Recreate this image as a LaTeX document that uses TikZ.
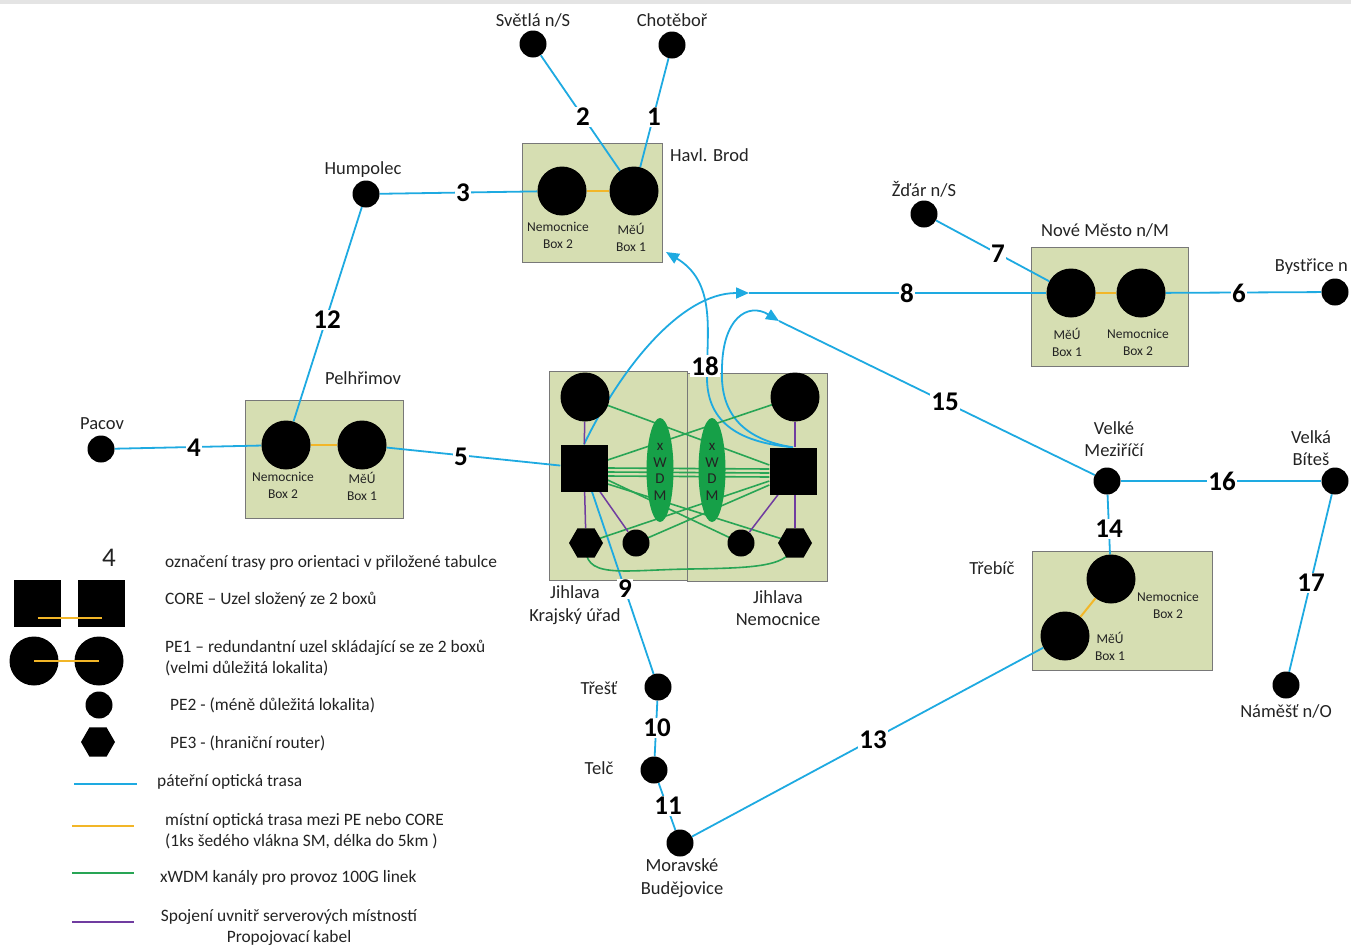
\documentclass[tikz,border=0pt]{standalone}
\usepackage{fontspec}
\setmainfont{Carlito}
\usetikzlibrary{shapes.geometric,arrows.meta}
\pgfdeclarelayer{boxes}
\pgfdeclarelayer{lines}
\pgfsetlayers{boxes,lines,main}
\definecolor{cblue}{RGB}{30,170,225}
\definecolor{cyel}{RGB}{242,182,40}
\definecolor{cgreen}{RGB}{40,165,85}
\definecolor{egreen}{RGB}{22,160,72}
\definecolor{cpurple}{RGB}{112,60,160}
\definecolor{boxfill}{RGB}{214,222,178}
\definecolor{boxline}{RGB}{120,120,120}
\definecolor{txt}{RGB}{35,35,35}
\definecolor{topgray}{RGB}{228,228,228}
\begin{document}
\begin{tikzpicture}[x=1pt,y=-1pt,
  pebig/.style={circle,fill=black,minimum size=49pt,inner sep=0pt},
  pesmall/.style={circle,fill=black,minimum size=27pt,inner sep=0pt},
  coresq/.style={rectangle,fill=black,minimum size=47pt,inner sep=0pt},
  hexnode/.style={regular polygon,regular polygon sides=6,fill=black,minimum size=34pt,inner sep=0pt},
  wdmell/.style={ellipse,fill=egreen,minimum width=27pt,minimum height=104pt,inner sep=0pt},
  site/.style={fill=boxfill,draw=boxline,line width=0.8pt},
  bb/.style={draw=cblue,line width=1.8pt},
  bbarrow/.style={bb,-{Triangle[length=13pt,width=11pt]}},
  locl/.style={draw=cyel,line width=2pt},
  wdm/.style={draw=cgreen,line width=1.6pt},
  intra/.style={draw=cpurple,line width=1.5pt},
  lbl/.style={font=\fontsize{18.5}{22.5}\selectfont,text=txt,inner sep=1pt,align=center},
  boxlbl/.style={font=\fontsize{13.5}{17}\selectfont,text=txt,inner sep=1pt,align=center},
  legtxt/.style={font=\fontsize{17.4}{21}\selectfont,text=txt,inner sep=0pt,align=left,anchor=west},
  num/.style={font=\fontsize{27}{29}\selectfont\bfseries,text=black,fill=white,inner sep=1.5pt},
  wdmtxt/.style={font=\fontsize{15}{16.5}\selectfont,text=txt,align=center,inner sep=0pt}
]
\useasboundingbox (0,0) rectangle (1351,945);
\fill[topgray] (0,0) rectangle (1351,4);

% ---------- site boxes ----------
\begin{pgfonlayer}{boxes}
\draw[site] (522,143) rectangle (662,262);
\draw[site] (245,400) rectangle (403,518);
\draw[site] (1031,247) rectangle (1188,366);
\draw[site] (1032,551) rectangle (1212,670);
\draw[site] (549,371) rectangle (687,580);
\draw[site] (687,373) rectangle (827,581);
\end{pgfonlayer}

% ---------- nodes ----------
\node[pesmall] (svetla) at (533,44) {};
\node[pesmall] (chot) at (672,45) {};
\node[pebig] (hbN) at (562,191) {};
\node[pebig] (hbM) at (634,191) {};
\node[pesmall] (humpolec) at (366,194) {};
\node[pebig] (pelN) at (286,445) {};
\node[pebig] (pelM) at (362,445) {};
\node[pesmall] (pacov) at (101,449) {};
\node[pebig] (Lc) at (585,397) {};
\node[pebig] (Rc) at (795,397) {};
\node[coresq] (LSq) at (584,468) {};
\node[coresq] (RSq) at (793,471) {};
\node[hexnode] (Lhex) at (586,543) {};
\node[pesmall] (Lsm) at (636,543) {};
\node[pesmall] (Rsm) at (741,543) {};
\node[hexnode] (Rhex) at (795,543) {};
\node[wdmell] (ellL) at (660,470) {};
\node[wdmell] (ellR) at (712,470) {};
\node[wdmtxt] (wtL) at (660,472) {x\\W\\D\\M};
\node[wdmtxt] (wtR) at (712,472) {x\\W\\D\\M};
\node[pesmall] (trest) at (658,687) {};
\node[pesmall] (telc) at (654,770) {};
\node[pesmall] (morbud) at (680,843) {};
\node[pebig] (trbN) at (1111,579) {};
\node[pebig] (trbM) at (1065,636) {};
\node[pesmall] (velmez) at (1107,481) {};
\node[pesmall] (velbit) at (1335,481) {};
\node[pesmall] (namest) at (1286,685) {};
\node[pesmall] (zdar) at (924,214) {};
\node[pebig] (nmM) at (1071,293) {};
\node[pebig] (nmN) at (1141,293) {};
\node[pesmall] (bystrice) at (1335,292) {};

\coordinate (a8) at (749,293);
\coordinate (a15) at (779,321);
\coordinate (a18) at (666,252);

% ---------- connectors ----------
\begin{pgfonlayer}{lines}
% local links
\draw[locl] (hbN) -- (hbM);
\draw[locl] (pelN) -- (pelM);
\draw[locl] (nmM) -- (nmN);
\draw[locl] (trbN) -- (trbM);
% backbone
\draw[bb] (svetla) -- (hbM);
\draw[bb] (chot) -- (hbM);
\draw[bb] (humpolec) -- (hbN);
\draw[bb] (humpolec) -- (pelN);
\draw[bb] (pacov) -- (pelN);
\draw[bb] (pelM) -- (LSq);
\draw[bb] ([xshift=8pt]LSq.south) -- (trest);
\draw[bb] (trest) -- (telc);
\draw[bb] (telc) -- (morbud);
\draw[bb] (morbud) -- (trbM);
\draw[bb] (velmez) -- (trbN);
\draw[bb] (velmez) -- (velbit);
\draw[bb] (velbit) -- (namest);
\draw[bb] (zdar) -- (nmM);
\draw[bb] (nmN) -- (bystrice);
\draw[bbarrow] (LSq.north) .. controls (620,370) and (680,293) .. (a8);
\draw[bb] (a8) -- (nmM);
\draw[bbarrow] (RSq.north) .. controls (745,440) and (720,415) .. (722,370)
      .. controls (722,318) and (748,302) .. (a15);
\draw[bb] (a15) -- (velmez);
\draw[bbarrow] (RSq.north) .. controls (735,442) and (706,420) .. (707,375)
      .. controls (707,330) and (716,282) .. (a18);
% xWDM channels
\draw[wdm] (Lc.center) -- ([yshift=6pt]RSq.west);
\draw[wdm] (Rc.center) -- ([yshift=8pt]LSq.east);
\draw[wdm] (LSq.east) -- ([yshift=2pt]RSq.west);
\draw[wdm] ([yshift=-4pt]LSq.east) -- ([yshift=-2pt]RSq.west);
\draw[wdm] ([yshift=-8pt]LSq.east) -- ([yshift=-6pt]RSq.west);
\draw[wdm] ([yshift=-12pt]LSq.east) -- (Rsm.center);
\draw[wdm] ([yshift=-16pt]LSq.east) -- (Rhex.center);
\draw[wdm] (Lhex.center) -- ([yshift=-10pt]RSq.west);
\draw[wdm] (Lsm.center) -- ([yshift=-14pt]RSq.west);
\draw[wdm] (Lhex.center) .. controls (582,580) and (620,570) .. (690,569)
      .. controls (760,568) and (790,566) .. (Rhex.center);
% inside server rooms
\draw[intra] (Lc) -- (LSq);
\draw[intra] (LSq) -- (Lhex);
\draw[intra] ([xshift=16pt]LSq.south) -- (Lsm);
\draw[intra] (Rc) -- ([xshift=2pt]RSq.north);
\draw[intra] ([xshift=2pt]RSq.south) -- (Rhex);
\draw[intra] ([xshift=-15pt]RSq.south) -- (Rsm);
\end{pgfonlayer}

% ---------- route numbers ----------
\node[num] (n1) at (654,117) {1};
\node[num] (n2) at (583,117) {2};
\node[num] (n3) at (463,193) {3};
\node[num] (n4) at (194,448) {4};
\node[num] (n5) at (461,457) {5};
\node[num] (n6) at (1239,293) {6};
\node[num] (n7) at (998,254) {7};
\node[num] (n8) at (907,293) {8};
\node[num] (n9) at (625,589) {9};
\node[num] (n10) at (657,728) {10};
\node[num] (n11) at (668,806) {11};
\node[num] (n12) at (327,320) {12};
\node[num] (n13) at (873,740) {13};
\node[num] (n14) at (1109,529) {14};
\node[num] (n15) at (945,402) {15};
\node[num] (n16) at (1222,481) {16};
\node[num] (n17) at (1311,583) {17};
\node[num] (n18) at (705,366) {18};

% ---------- place labels ----------
\node[lbl] (lsvetla) at (533,20) {Světlá n/S};
\node[lbl] (lchot) at (672,20) {Chotěboř};
\node[lbl,anchor=west] (lhb) at (669,155) {Havl. Brod};
\node[lbl] (lhump) at (363,170) {Humpolec};
\node[lbl] (lpel) at (363,378) {Pelhřimov};
\node[lbl] (lpacov) at (102,424) {Pacov};
\node[lbl] (lzdar) at (924,189) {Žďár n/S};
\node[lbl] (lnm) at (1105,230) {Nové Město n/M};
\node[lbl,anchor=east] (lbys) at (1349,267) {Bystřice n};
\node[lbl] (lvm) at (1114,439) {Velké\\Meziříčí};
\node[lbl] (lvb) at (1311,448) {Velká\\Bíteš};
\node[lbl] (ltrb) at (992,568) {Třebíč};
\node[lbl] (lnam) at (1286,711) {Náměšť n/O};
\node[lbl] (ltrest) at (599,688) {Třešť};
\node[lbl] (ltelc) at (599,768) {Telč};
\node[lbl] (lmb) at (682,878) {Moravské\\Budějovice};
\node[lbl] (ljk) at (575,605) {Jihlava\\Krajský úřad};
\node[lbl] (ljn) at (778,608) {Jihlava\\Nemocnice};

% box labels
\node[boxlbl] (bhbN) at (558,235) {Nemocnice\\Box 2};
\node[boxlbl] (bhbM) at (631,237) {MěÚ\\Box 1};
\node[boxlbl] (bpelN) at (283,485) {Nemocnice\\Box 2};
\node[boxlbl] (bpelM) at (362,486) {MěÚ\\Box 1};
\node[boxlbl] (bnmM) at (1067,342) {MěÚ\\Box 1};
\node[boxlbl] (bnmN) at (1138,342) {Nemocnice\\Box 2};
\node[boxlbl] (btrbN) at (1168,605) {Nemocnice\\Box 2};
\node[boxlbl] (btrbM) at (1110,646) {MěÚ\\Box 1};

% ---------- legend ----------
\node[font=\fontsize{27}{29}\selectfont,text=txt,inner sep=0pt] (leg4) at (109,558) {4};
\node[legtxt] (t4) at (165,563) {označení trasy pro orientaci v přiložené tabulce};
\node[coresq] (lsq1) at (37.5,603.5) {};
\node[coresq] (lsq2) at (101.5,603.5) {};
\draw[locl] ([yshift=-14pt]lsq1.center) -- ([yshift=-14pt]lsq2.center);
\node[legtxt] (tcore) at (165,600) {CORE – Uzel složený ze 2 boxů};
\node[pebig] (lpe1a) at (34,661) {};
\node[pebig] (lpe1b) at (99,661) {};
\draw[locl] (lpe1a.center) -- (lpe1b.center);
\node[legtxt] (tpe1) at (165,658) {PE1 – redundantní uzel skládající se ze 2 boxů\\(velmi důležitá lokalita)};
\node[pesmall] (lpe2) at (99,705) {};
\node[legtxt] (tpe2) at (170,705) {PE2 - (méně důležitá lokalita)};
\node[hexnode] (lpe3) at (98,742) {};
\node[legtxt] (tpe3) at (170,743) {PE3 - (hraniční router)};
\coordinate (lb1) at (74,784); \coordinate (lb2) at (137,784);
\draw[bb] (lb1) -- (lb2);
\node[legtxt] (tbb) at (157,782) {páteřní optická trasa};
\coordinate (ly1) at (72,826); \coordinate (ly2) at (134,826);
\draw[locl] (ly1) -- (ly2);
\node[legtxt] (tloc) at (165,831) {místní optická trasa mezi PE nebo CORE\\(1ks šedého vlákna SM, délka do 5km )};
\coordinate (lg1) at (72,873); \coordinate (lg2) at (134,873);
\draw[wdm] (lg1) -- (lg2);
\node[legtxt] (twdm) at (160,878) {xWDM kanály pro provoz 100G linek};
\coordinate (lp1) at (72,922); \coordinate (lp2) at (134,922);
\draw[intra] (lp1) -- (lp2);
\node[font=\fontsize{17.4}{21}\selectfont,text=txt,inner sep=0pt,align=center] (tintra) at (289,927) {Spojení uvnitř serverových místností\\Propojovací kabel};
\end{tikzpicture}
\end{document}
